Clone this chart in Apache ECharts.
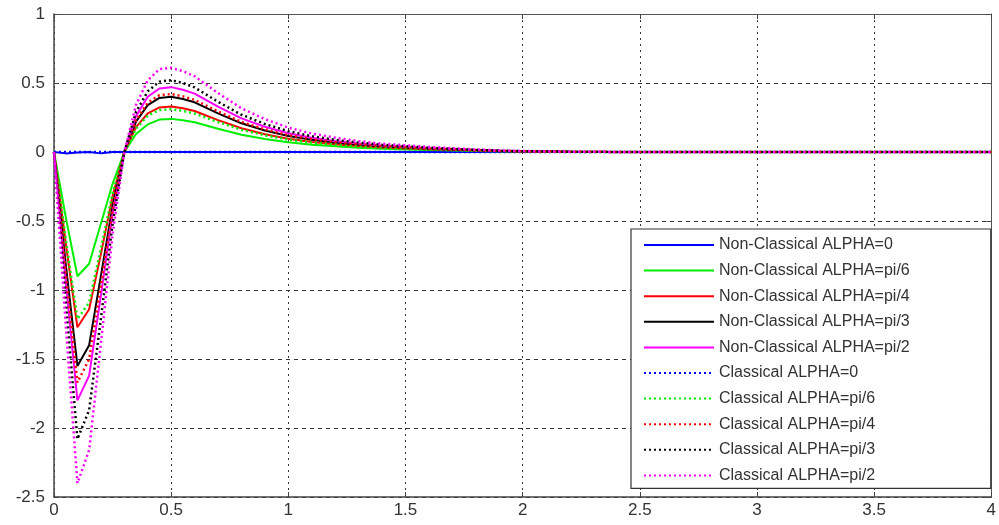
<!DOCTYPE html>
<html>
<head>
<meta charset="utf-8">
<script src="https://cdn.jsdelivr.net/npm/echarts@6/dist/echarts.min.js"></script>
<style>
html,body{margin:0;padding:0;background:#fff;}
#chart{width:999px;height:525px;}
</style>
</head>
<body>
<div id="chart"></div>
<script>
// x sample points
var xs = [0, 0.05, 0.1, 0.15, 0.2, 0.25, 0.3, 0.35, 0.4, 0.45, 0.5, 0.55, 0.6, 0.7, 0.8, 0.9, 1.0, 1.1, 1.2, 1.3, 1.4, 1.5, 1.6, 1.7, 1.8, 1.9, 2.0, 2.2, 2.5, 3, 3.5, 4];

var seriesNames = [
  'Non-Classical ALPHA=0',
  'Non-Classical ALPHA=pi/6',
  'Non-Classical ALPHA=pi/4',
  'Non-Classical ALPHA=pi/3',
  'Non-Classical ALPHA=pi/2',
  'Classical ALPHA=0',
  'Classical ALPHA=pi/6',
  'Classical ALPHA=pi/4',
  'Classical ALPHA=pi/3',
  'Classical ALPHA=pi/2'
];

var nc0   = [0, -0.01, -0.004, 0, -0.01, 0, 0, 0, 0, 0, 0, 0, 0, 0, 0, 0, 0, 0, 0, 0, 0, 0, 0, 0, 0, 0, 0, 0, 0, 0, 0, 0];
var ncPi6 = [0, -0.47, -0.9, -0.81, -0.52, -0.23, 0, 0.13, 0.20, 0.235, 0.24, 0.23, 0.216, 0.168, 0.125, 0.094, 0.07, 0.053, 0.041, 0.031, 0.024, 0.019, 0.014, 0.011, 0.007, 0.005, 0.003, 0.001, 0, 0, 0, 0];
var ncPi4 = [0, -0.66, -1.27, -1.14, -0.74, -0.32, 0, 0.18, 0.28, 0.323, 0.33, 0.317, 0.297, 0.231, 0.172, 0.129, 0.096, 0.073, 0.056, 0.043, 0.033, 0.026, 0.02, 0.015, 0.01, 0.007, 0.004, 0.001, 0, 0, 0, 0];
var ncPi3 = [0, -0.81, -1.55, -1.40, -0.90, -0.39, 0, 0.22, 0.34, 0.392, 0.40, 0.384, 0.36, 0.28, 0.208, 0.156, 0.116, 0.088, 0.068, 0.052, 0.04, 0.032, 0.024, 0.018, 0.012, 0.008, 0.005, 0.002, 0, 0, 0, 0];
var ncPi2 = [0, -0.94, -1.8, -1.62, -1.04, -0.45, 0, 0.26, 0.40, 0.46, 0.47, 0.451, 0.423, 0.329, 0.244, 0.183, 0.136, 0.103, 0.08, 0.061, 0.047, 0.038, 0.028, 0.021, 0.014, 0.009, 0.006, 0.002, 0, 0, 0, 0];
var c0    = [0, 0, 0, 0, 0, 0, 0, 0, 0, 0, 0, 0, 0, 0, 0, 0, 0, 0, 0, 0, 0, 0, 0, 0, 0, 0, 0, 0, 0, 0, 0, 0];
var cPi6  = [0, -0.63, -1.21, -1.09, -0.70, -0.30, 0, 0.17, 0.264, 0.304, 0.31, 0.298, 0.279, 0.217, 0.161, 0.121, 0.09, 0.068, 0.053, 0.04, 0.031, 0.025, 0.019, 0.014, 0.009, 0.006, 0.004, 0.001, 0, 0, 0, 0];
var cPi4  = [0, -0.87, -1.67, -1.50, -0.97, -0.42, 0, 0.23, 0.357, 0.412, 0.42, 0.403, 0.378, 0.294, 0.218, 0.164, 0.122, 0.092, 0.071, 0.055, 0.042, 0.034, 0.025, 0.019, 0.013, 0.008, 0.005, 0.002, 0, 0, 0, 0];
var cPi3  = [0, -1.08, -2.08, -1.87, -1.21, -0.52, 0, 0.29, 0.44, 0.51, 0.52, 0.50, 0.468, 0.364, 0.27, 0.203, 0.151, 0.114, 0.088, 0.068, 0.052, 0.042, 0.031, 0.023, 0.016, 0.01, 0.006, 0.002, 0, 0, 0, 0];
var cPi2  = [0, -1.25, -2.4, -2.16, -1.39, -0.6, 0, 0.34, 0.52, 0.60, 0.61, 0.586, 0.549, 0.427, 0.317, 0.238, 0.177, 0.134, 0.104, 0.079, 0.061, 0.049, 0.037, 0.027, 0.018, 0.012, 0.007, 0.002, 0, 0, 0, 0];

var allValues = [nc0, ncPi6, ncPi4, ncPi3, ncPi2, c0, cPi6, cPi4, cPi3, cPi2];
var colors = ['#0000ff', '#00ee00', '#ff0000', '#000000', '#ff00ff', '#0000ff', '#00ee00', '#ff0000', '#000000', '#ff00ff'];
var dotted = [false, false, false, false, false, true, true, true, true, true];

var xTicks = ['0', '0.5', '1', '1.5', '2', '2.5', '3', '3.5', '4'];
var yTicks = ['-2.5', '-2', '-1.5', '-1', '-0.5', '0', '0.5', '1'];

function pairs(vals) {
  return xs.map(function (x, i) { return [x, vals[i]]; });
}

var series = seriesNames.map(function (name, k) {
  return {
    name: name,
    type: 'line',
    xAxisIndex: 0,
    yAxisIndex: 0,
    data: pairs(allValues[k]),
    symbol: 'none',
    smooth: false,
    animation: false,
    color: colors[k],
    lineStyle: {
      color: colors[k],
      width: dotted[k] ? 2.5 : 2,
      type: dotted[k] ? [2, 3] : 'solid'
    },
    z: 2 + k * 0.01
  };
});

var font = '"Liberation Sans", Arial, sans-serif';

var chart = echarts.init(document.getElementById('chart'), null, {renderer: 'canvas'});
chart.setOption({
  backgroundColor: '#ffffff',
  animation: false,
  grid: {left: 54, right: 1, top: 14, bottom: 28, containLabel: false},
  xAxis: [{
    type: 'value', min: 0, max: 4, interval: 0.5, position: 'bottom',
    axisLine: {show: true, onZero: false, lineStyle: {color: '#444', width: 1.5}},
    axisTick: {show: true, inside: true, length: 5, lineStyle: {color: '#444'}},
    axisLabel: {
      color: '#333', fontSize: 17, fontFamily: font, margin: 5,
      formatter: function (v) { return xTicks[Math.round(v / 0.5)]; }
    },
    splitLine: {show: true, lineStyle: {color: '#333', width: 1, type: [2, 4]}}
  }, {
    type: 'value', min: 0, max: 4, interval: 0.5, position: 'top',
    axisLine: {show: true, onZero: false, lineStyle: {color: '#555', width: 1}},
    axisTick: {show: true, inside: true, length: 5, lineStyle: {color: '#444'}},
    axisLabel: {show: false},
    splitLine: {show: false}
  }],
  yAxis: [{
    type: 'value', min: -2.5, max: 1, interval: 0.5, position: 'left',
    axisLine: {show: true, onZero: false, lineStyle: {color: '#444', width: 1.5}},
    axisTick: {show: true, inside: true, length: 5, lineStyle: {color: '#444'}},
    axisLabel: {
      color: '#333', fontSize: 17, fontFamily: font, margin: 9,
      formatter: function (v) { return yTicks[Math.round((v + 2.5) / 0.5)]; }
    },
    splitLine: {show: true, lineStyle: {color: '#333', width: 1, type: [4, 4]}}
  }, {
    type: 'value', min: -2.5, max: 1, interval: 0.5, position: 'right',
    axisLine: {show: true, onZero: false, lineStyle: {color: '#555', width: 1}},
    axisTick: {show: true, inside: true, length: 5, lineStyle: {color: '#444'}},
    axisLabel: {show: false},
    splitLine: {show: false}
  }],
  legend: {
    show: true,
    orient: 'vertical',
    left: 631,
    top: 229,
    data: seriesNames,
    itemWidth: 70,
    itemHeight: 14,
    itemGap: 9.6,
    padding: [8, 81, 5, 12],
    backgroundColor: '#ffffff',
    borderColor: '#333',
    borderWidth: 1.2,
    borderRadius: 0,
    selectedMode: false,
    itemStyle: {color: 'transparent', borderWidth: 0, opacity: 0},
    textStyle: {color: '#333', fontSize: 16, fontFamily: font, lineHeight: 16},
    z: 10
  },
  series: series
});
</script>
</body>
</html>
